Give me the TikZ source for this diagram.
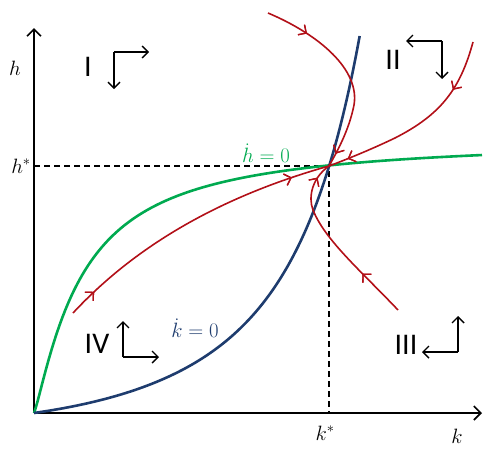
\documentclass[tikz,border=0pt]{standalone}
\usepackage{fontspec}
\newfontfamily\numfont{Carlito}
\usetikzlibrary{arrows.meta,decorations.markings}
\definecolor{cgreen}{RGB}{0,170,80}
\definecolor{cblue}{RGB}{30,60,110}
\definecolor{cred}{RGB}{178,16,24}
\tikzset{
  axis/.style={line width=1.8pt,-{Straight Barb[length=7pt,width=14pt,line width=1.6pt]}},
  dir/.style={line width=1.6pt,-{Straight Barb[length=6pt,width=12pt,line width=1.4pt]}},
  traj/.style={cred,line width=1.6pt},
  redtip/.style={decoration={markings,mark=at position #1 with {\arrow[line width=1.3pt]{Straight Barb[length=6pt,width=12pt]}}},postaction=decorate},
  num/.style={font=\numfont\fontsize{30}{30}\selectfont},
  mlab/.style={font=\fontsize{20}{20}\selectfont},
  nullcl/.style={line width=2.6pt,line join=round},
}
\begin{document}
\begin{tikzpicture}[x=1pt,y=-1pt]
\useasboundingbox (0,0) rectangle (490,450);
\coordinate (O) at (34,413);
\coordinate (E) at (329,166);
\coordinate (Ytop) at (34,28);
\coordinate (Xend) at (482,413);
\coordinate (Hs) at (34,166);
\coordinate (Ks) at (329,413);
% dashed
\draw[line width=1.3pt,dash pattern=on 6pt off 4pt] (Hs) -- (E) -- (Ks);
% axes
\draw[axis] (O) -- (Ytop);
\draw[axis] (O) -- (Xend);
% green curve (hdot = 0)
\draw[nullcl,cgreen] (O) -- plot[domain=0.5:448,samples=160]
  ({34+\x},{413-275.7/(1+104.4/pow(\x,1.2))});
% blue curve (kdot = 0)
\draw[nullcl,cblue] (O) -- plot[domain=0.1:377,samples=160]
  ({34+0.495*(92.3*ln(1+\x/11)+386.8/(1+66.2/\x))},{413-\x});
% red trajectories
\draw[traj,redtip/.list={0.22,0.93}] (268,13) .. controls (320,35) and (360,70) .. (354,105)
  .. controls (349,130) and (338,150) .. (E);
\draw[traj,redtip/.list={0.26,0.9}] (473,42) .. controls (460,90) and (440,115) .. (395,138)
  .. controls (370,150) and (345,160) .. (E);
\draw[traj,redtip/.list={0.1,0.87}] (73,313) .. controls (115,268) and (190,205) .. (E);
\draw[traj,redtip/.list={0.28,0.91}] (398,310) .. controls (360,270) and (325,240) .. (313,210)
  .. controls (308,197) and (312,178) .. (E);
% direction arrows
\coordinate (c1) at (114,52);
\draw[dir] (c1) -- (114,89);
\draw[dir] (c1) -- (149,52);
\coordinate (c2) at (442,41);
\draw[dir] (c2) -- (406,41);
\draw[dir] (c2) -- (442,79);
\coordinate (c3) at (458,352);
\draw[dir] (c3) -- (458,316);
\draw[dir] (c3) -- (422,352);
\coordinate (c4) at (123,357);
\draw[dir] (c4) -- (123,321);
\draw[dir] (c4) -- (159,357);
% labels
\node[num] (L1) at (88,67) {I};
\node[num] (L2) at (393,60) {II};
\node[num] (L3) at (406,345) {III};
\node[num] (L4) at (97,344) {IV};
\node[mlab] (lh) at (15,68) {$h$};
\node[mlab] (lhs) at (21,166) {$h^{*}$};
\node[mlab] (lks) at (325,433) {$k^{*}$};
\node[mlab] (lk) at (457,436) {$k$};
\node[mlab,text=cgreen] (lhd) at (266,153) {$\dot h=0$};
\node[mlab,text=cblue] (lkd) at (195,328) {$\dot k=0$};
\end{tikzpicture}
\end{document}
